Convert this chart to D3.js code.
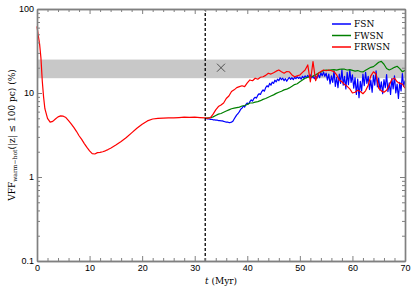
<!DOCTYPE html>
<html>
<head>
<meta charset="utf-8">
<style>
  body { margin: 0; background: #fff; }
  svg { display: block; font-family: "DejaVu Serif", serif; }
  .axis .domain { stroke: #808080; stroke-width: 1.4; }
  .axis .tick line { stroke: #808080; stroke-width: 1; }
  .axis .tick text { font-size: 9px; fill: #000; }
  .lbl { font-size: 9px; fill: #000; }
</style>
</head>
<body>
<svg width="416" height="291"></svg>
<script src="https://d3js.org/d3.v7.min.js"></script>
<script>
// shared early evolution (all runs identical before 32 Myr)
let earlyT = [0, 0.25, 0.5, 0.75, 1, 1.25, 1.5, 2, 2.5, 3, 3.5, 4, 4.5, 5, 5.5, 6, 6.5, 7, 7.5, 8, 8.5, 9, 9.5, 10, 10.5, 11, 11.5, 12, 12.5, 13, 13.5, 14, 15, 16, 17, 18, 19, 20, 21, 22, 23, 24, 25, 26, 27, 28, 29, 30, 31, 32];
let earlyV = [62, 48, 38, 26, 14, 9, 6.5, 5.0, 4.5, 4.6, 4.9, 5.2, 5.35, 5.3, 5.1, 4.7, 4.3, 3.9, 3.5, 3.1, 2.8, 2.5, 2.25, 2.05, 1.9, 1.88, 1.95, 1.96, 2.0, 2.05, 2.12, 2.2, 2.4, 2.65, 2.95, 3.35, 3.8, 4.25, 4.65, 4.9, 5.0, 5.02, 5.05, 5.05, 5.1, 5.15, 5.12, 5.15, 5.1, 5.05];

// FSN after 32 Myr, every 0.25 Myr
let fsnStart = 32, fsnStep = 0.25;
let fsnV = [5.0, 4.95, 4.9, 4.9, 4.85, 4.85, 4.8, 4.8, 4.75, 4.75, 4.7, 4.7, 4.65, 4.65, 4.6, 4.55, 4.5, 4.5, 4.45, 4.45, 4.5, 4.6,
  4.9, 5.2, 5.5, 5.7, 6.0, 6.4, 6.6, 7.0, 6.8, 7.3, 7.6, 7.4, 7.9, 8.3, 8.0, 8.6, 8.9, 8.7, 9.4, 9.8, 9.6, 10.4, 10.9, 10.5, 11.6, 12.2, 11.8, 13.0, 12.4, 13.5,
  13.0, 14.2, 13.6, 14.6, 14.0, 15.2, 14.4, 15.0, 14.0, 14.8, 13.8, 14.6, 15.3, 14.5, 15.2, 14.4, 15.4, 14.8, 15.6, 14.9,
  15.4, 14.6, 15.8, 15.0, 16.0, 15.2, 16.2, 15.4, 16.4, 15.2, 15.8, 14.8, 16.0, 15.0, 16.6, 15.2, 17.4, 16.0, 17.8, 15.8,
  17.2, 14.2, 16.8, 12.8, 16.0, 13.4, 18.2, 12.0, 15.4, 11.6, 16.8, 13.0, 19.0, 12.4, 15.8, 11.2, 17.6, 12.6, 18.8, 13.4,
  16.4, 11.4, 15.2, 9.6, 14.6, 8.8, 13.8, 10.6, 16.8, 12.2, 17.6, 13.0, 15.8, 11.0, 14.2, 10.2, 16.2, 12.4, 18.4, 11.8,
  15.0, 10.8, 13.6, 9.8, 14.4, 11.6, 16.6, 10.4, 13.2, 9.6, 14.8, 11.2, 16.0, 10.0, 12.8, 8.6, 13.4, 10.6, 17.0, 12.0, 14.0];

// FWSN and FRWSN after 32 Myr, every 0.5 Myr
let runStart = 32, runStep = 0.5;
let fwsnV = [5.0, 5.05, 5.1, 5.2, 5.4, 5.6, 5.7, 5.9, 6.1, 6.3, 6.5, 6.6, 6.7, 6.8, 7.0, 7.1, 7.3, 7.6, 7.6, 7.8,
  7.9, 8.1, 8.4, 8.6, 8.9, 9.2, 9.5, 9.9, 10.2, 10.5, 10.9, 11.1, 11.5, 12.0, 12.6, 12.9, 13.6, 14.3, 15.0, 15.4,
  15.6, 15.9, 16.5, 17.2, 17.8, 18.5, 18.8, 18.6, 18.9, 19.0, 18.7, 19.1, 19.3, 19.2, 18.8, 19.0, 18.6, 18.2, 18.5, 18.0,
  17.8, 18.6, 19.4, 20.2, 20.6, 21.8, 23.2, 23.8, 22.0, 19.6, 18.8, 19.4, 20.2, 20.8, 19.5, 17.9, 18.6];
let frwsnV = [5.05, 5.0, 5.1, 5.6, 6.3, 6.9, 7.2, 7.6, 8.6, 9.2, 10.4, 10.9, 11.6, 11.9, 12.2, 11.9, 13.2, 14.3, 14.0, 15.0,
  14.6, 15.4, 15.6, 16.2, 17.2, 16.8, 17.4, 18.2, 18.8, 17.9, 17.2, 18.0, 17.9, 16.4, 15.6, 16.0, 16.4, 17.6, 18.8, 21.6,
  13.6, 23.7, 14.0, 17.2, 18.0, 18.8, 18.4, 18.8, 18.4, 18.0, 16.4, 14.3, 13.6, 12.6, 12.0, 11.2, 10.0, 10.2, 10.8, 10.4,
  9.8, 10.6, 12.4, 16.0, 17.9, 16.8, 11.4, 10.6, 10.2, 10.8, 12.4, 14.6, 15.0, 13.6, 13.0, 12.8, 11.4];

let runNames = ["FSN", "FWSN", "FRWSN"];
let runColors = ["#0000ff", "#008000", "#ff0000"];

let band = [15, 25];      // shaded range (%)
let sfTime = 32;          // dashed line (Myr)
let marker = [35, 20];    // cross marker

let xMajor = [0, 10, 20, 30, 40, 50, 60, 70];
let yMajor = [0.1, 1, 10, 100];
let yLabels = ["0.1", "1", "10", "100"];

let svg = d3.select("svg");
let margin = { top: 9, right: 11, bottom: 30, left: 37 };
let W = 416, H = 291;

let x = d3.scaleLinear().domain([0, 70]).range([margin.left, W - margin.right]);
let y = d3.scaleLog().domain([0.1, 100]).range([H - margin.bottom, margin.top]);

// build series
let early = earlyT.map((t, i) => [t, earlyV[i]]);
let fsn = fsnV.map((v, i) => [fsnStart + i * fsnStep, v]);
let fwsn = fwsnV.map((v, i) => [runStart + i * runStep, v]);
let frwsn = frwsnV.map((v, i) => [runStart + i * runStep, v]);
let series = [fsn, fwsn, frwsn];

// band
svg.append("rect")
  .attr("x", x(0)).attr("width", x(70) - x(0))
  .attr("y", y(band[1])).attr("height", y(band[0]) - y(band[1]))
  .attr("fill", "#c8c8c8");

let line = d3.line().x(d => x(d[0])).y(d => y(d[1]));

series.forEach((s, i) => {
  svg.append("path").datum(s)
    .attr("fill", "none").attr("stroke", runColors[i])
    .attr("stroke-width", 1.2).attr("stroke-linejoin", "round")
    .attr("d", line);
});
svg.append("path").datum(early)
  .attr("fill", "none").attr("stroke", runColors[2])
  .attr("stroke-width", 1.2).attr("stroke-linejoin", "round")
  .attr("d", line);

// dashed line
svg.append("line")
  .attr("x1", x(sfTime)).attr("x2", x(sfTime))
  .attr("y1", y(0.1)).attr("y2", y(100))
  .attr("stroke", "#000").attr("stroke-width", 1.3)
  .attr("stroke-dasharray", "3,2");

// cross marker
svg.append("path")
  .attr("transform", `translate(${x(marker[0])},${y(marker[1])})`)
  .attr("d", "M-4,-4L4,4M-4,4L4,-4")
  .attr("stroke", "#444").attr("stroke-width", 0.9);

// axes
let xMinor = d3.range(0, 71, 2).filter(v => v % 10 !== 0);
let yMinor = [];
[0.1, 1, 10].forEach(d => { for (let k = 2; k <= 9; k++) yMinor.push(d * k); });

function addAxis(axis, tx, ty, cls) {
  return svg.append("g").attr("class", "axis " + (cls || ""))
    .attr("transform", `translate(${tx},${ty})`).call(axis);
}
let y0 = H - margin.bottom, x1 = W - margin.right;

addAxis(d3.axisBottom(x).tickValues(xMinor).tickSize(-3).tickSizeOuter(0).tickFormat(""), 0, y0);
addAxis(d3.axisTop(x).tickValues(xMinor).tickSize(-3).tickSizeOuter(0).tickFormat(""), 0, margin.top);
addAxis(d3.axisLeft(y).tickValues(yMinor).tickSize(-3).tickSizeOuter(0).tickFormat(""), margin.left, 0);
addAxis(d3.axisRight(y).tickValues(yMinor).tickSize(-3).tickSizeOuter(0).tickFormat(""), x1, 0);

addAxis(d3.axisBottom(x).tickValues(xMajor).tickSize(-5).tickSizeOuter(0).tickPadding(4).tickFormat(d3.format("d")), 0, y0);
addAxis(d3.axisTop(x).tickValues(xMajor).tickSize(-5).tickSizeOuter(0).tickFormat(""), 0, margin.top);
addAxis(d3.axisLeft(y).tickValues(yMajor).tickSize(-5).tickSizeOuter(0).tickPadding(3).tickFormat((d, i) => yLabels[i]), margin.left, 0);
addAxis(d3.axisRight(y).tickValues(yMajor).tickSize(-5).tickSizeOuter(0).tickFormat(""), x1, 0);

// axis titles
let xt = svg.append("text").attr("class", "lbl")
  .attr("x", (margin.left + x1) / 2).attr("y", 284).attr("text-anchor", "middle");
xt.append("tspan").attr("font-style", "italic").text("t");
xt.append("tspan").text(" (Myr)");

let yt = svg.append("text").attr("class", "lbl")
  .attr("transform", `translate(15,${(margin.top + y0) / 2}) rotate(-90)`)
  .attr("text-anchor", "middle");
yt.append("tspan").text("VFF");
yt.append("tspan").attr("font-size", "6px").attr("dy", 2).text("warm\u2212hot");
yt.append("tspan").attr("dy", -2).text("(|z| \u2264 100 pc) (%)");

// legend
let lg = svg.append("g").attr("transform", "translate(332,24)");
runNames.forEach((n, i) => {
  lg.append("line").attr("x1", 0).attr("x2", 19).attr("y1", i * 11.5).attr("y2", i * 11.5)
    .attr("stroke", runColors[i]).attr("stroke-width", 1.5);
  lg.append("text").attr("class", "lbl").attr("x", 22).attr("y", i * 11.5).attr("dy", "0.35em").text(n);
});
</script>
</body>
</html>
